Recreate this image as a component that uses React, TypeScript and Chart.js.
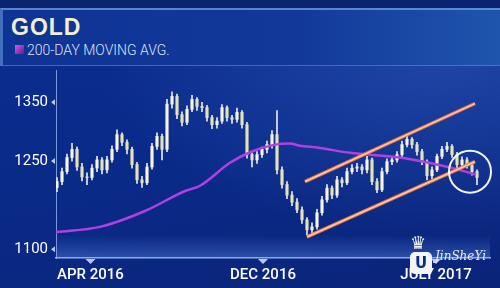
import React, { useEffect, useRef } from 'react';
import { Chart, registerables } from 'chart.js';

Chart.register(...registerables);

// ---- data (x = candle index) ----
const candleOpen = [
  1205, 1215, 1232, 1256, 1270, 1240, 1223, 1222, 1238, 1252,
  1235, 1252, 1270, 1295, 1282, 1270, 1244, 1218, 1213, 1240,
  1275, 1292, 1270, 1347, 1360, 1329, 1316, 1338, 1355, 1343,
  1341, 1324, 1312, 1318, 1341, 1324, 1321, 1333, 1312, 1261,
  1252, 1261, 1270, 1278, 1295, 1235, 1210, 1192, 1180, 1167,
  1150, 1133, 1138, 1162, 1184, 1204, 1192, 1218, 1213, 1232,
  1238, 1240, 1235, 1252, 1215, 1201, 1232, 1249, 1252, 1261,
  1278, 1287, 1278, 1266, 1249, 1225, 1235, 1258, 1270, 1275,
  1261, 1244, 1252, 1244, 1232,
];
const candleHigh = [
  1222, 1238, 1262, 1280, 1274, 1246, 1230, 1244, 1258, 1256,
  1258, 1276, 1303, 1298, 1286, 1274, 1248, 1224, 1246, 1280,
  1298, 1296, 1355, 1368, 1364, 1334, 1344, 1362, 1358, 1350,
  1345, 1328, 1324, 1346, 1344, 1328, 1340, 1336, 1316, 1264,
  1266, 1274, 1284, 1302, 1336, 1240, 1215, 1198, 1186, 1172,
  1154, 1145, 1168, 1190, 1210, 1208, 1224, 1222, 1238, 1244,
  1246, 1244, 1258, 1255, 1220, 1238, 1254, 1258, 1266, 1284,
  1294, 1290, 1282, 1270, 1252, 1240, 1262, 1275, 1282, 1278,
  1265, 1257, 1256, 1248, 1235,
];
const candleLow = [
  1198, 1210, 1228, 1250, 1234, 1216, 1210, 1218, 1232, 1228,
  1230, 1248, 1266, 1276, 1262, 1238, 1212, 1205, 1210, 1236,
  1270, 1252, 1266, 1340, 1322, 1310, 1312, 1334, 1336, 1334,
  1318, 1305, 1306, 1314, 1318, 1314, 1316, 1306, 1255, 1240,
  1246, 1256, 1264, 1272, 1228, 1204, 1186, 1174, 1162, 1144,
  1124, 1128, 1134, 1158, 1180, 1186, 1188, 1206, 1210, 1228,
  1232, 1228, 1230, 1210, 1196, 1198, 1228, 1244, 1248, 1256,
  1274, 1272, 1260, 1244, 1218, 1220, 1232, 1254, 1266, 1256,
  1238, 1240, 1238, 1226, 1210,
];
const candleClose = [
  1215, 1232, 1256, 1270, 1240, 1223, 1222, 1238, 1252, 1235,
  1252, 1270, 1295, 1282, 1270, 1244, 1218, 1213, 1240, 1275,
  1292, 1270, 1347, 1360, 1329, 1316, 1338, 1355, 1343, 1341,
  1324, 1312, 1318, 1341, 1324, 1321, 1333, 1312, 1261, 1252,
  1261, 1270, 1278, 1295, 1235, 1210, 1192, 1180, 1167, 1150,
  1133, 1138, 1162, 1184, 1204, 1192, 1218, 1213, 1232, 1238,
  1240, 1235, 1252, 1215, 1201, 1232, 1249, 1252, 1261, 1278,
  1287, 1278, 1266, 1249, 1225, 1235, 1258, 1270, 1275, 1261,
  1244, 1252, 1244, 1232, 1222,
];

const maIndex = [-0.2, 8.6, 17.6, 25.6, 28.6, 34.6, 38.6, 43.6, 46.6, 48.6, 52, 58.6, 68.6, 78.6, 83.8];
const maValue = [1129, 1138, 1165, 1199, 1208, 1247, 1265, 1278, 1280, 1276, 1273, 1264, 1256, 1239, 1227];

const upperChannelIndex = [49.6, 83.6];
const upperChannelValue = [1215, 1348];
const lowerChannelIndex = [50, 83.6];
const lowerChannelValue = [1121, 1249];

const yTickValues = [1100, 1250, 1350];
const xTickLabels = ['APR 2016', 'DEC 2016', 'JULY 2017'];
const xTickIndex = [6.7, 41.2, 75.8];

const highlightIndex = 82.6;
const highlightValue = 1232;

const decorations = {
  id: 'decorations',
  beforeDatasetsDraw(chart: any) {
    const { ctx, chartArea } = chart;
    ctx.save();
    const g = ctx.createLinearGradient(0, chartArea.bottom - 24, 0, chartArea.bottom);
    g.addColorStop(0, 'rgba(90,140,240,0)');
    g.addColorStop(1, 'rgba(110,160,250,0.35)');
    ctx.fillStyle = g;
    ctx.fillRect(chartArea.left, chartArea.bottom - 24, chartArea.right - chartArea.left, 24);
    ctx.restore();
  },
  afterDraw(chart: any) {
    const { ctx, scales, chartArea } = chart;
    const xs = scales.x;
    const ys = scales.y;
    ctx.save();
    ctx.fillStyle = 'rgba(205,220,255,0.9)';
    yTickValues.forEach((v) => {
      const py = ys.getPixelForValue(v);
      ctx.beginPath();
      ctx.moveTo(chartArea.left - 5, py);
      ctx.lineTo(chartArea.left - 1, py - 3);
      ctx.lineTo(chartArea.left - 1, py + 3);
      ctx.closePath();
      ctx.fill();
    });
    xTickIndex.forEach((v) => {
      const px = xs.getPixelForValue(v);
      ctx.beginPath();
      ctx.moveTo(px - 5, chartArea.bottom + 1);
      ctx.lineTo(px + 5, chartArea.bottom + 1);
      ctx.lineTo(px, chartArea.bottom + 6);
      ctx.closePath();
      ctx.fill();
    });
    ctx.strokeStyle = 'rgba(255,255,255,0.95)';
    ctx.lineWidth = 2;
    ctx.beginPath();
    ctx.arc(xs.getPixelForValue(highlightIndex), ys.getPixelForValue(highlightValue), 21, 0, Math.PI * 2);
    ctx.stroke();
    ctx.restore();
  },
};

export default function App() {
  const canvasRef = useRef<HTMLCanvasElement | null>(null);

  useEffect(() => {
    document.body.style.margin = '0';
    const canvas = canvasRef.current;
    if (!canvas) return;
    Chart.defaults.font.family = 'Roboto, "Liberation Sans", sans-serif';

    const wicks = candleHigh.map((h, i) => ({ x: i, y: [candleLow[i], h] }));
    const bodies = candleOpen.map((o, i) => ({ x: i, y: [o, candleClose[i]] }));
    const bodyColors = candleOpen.map((o, i) => (candleClose[i] >= o ? '#f7f5e2' : '#e6e2b4'));
    const ma = maIndex.map((x, i) => ({ x, y: maValue[i] }));
    const upper = upperChannelIndex.map((x, i) => ({ x, y: upperChannelValue[i] }));
    const lower = lowerChannelIndex.map((x, i) => ({ x, y: lowerChannelValue[i] }));

    const chart = new Chart(canvas, {
      type: 'bar',
      data: {
        datasets: [
          { type: 'line', data: upper, borderColor: '#ee7a44', borderWidth: 3.5, pointRadius: 0, order: 1 } as any,
          { type: 'line', data: upper, borderColor: '#ffd3b6', borderWidth: 1.2, pointRadius: 0, order: 0 } as any,
          { type: 'line', data: lower, borderColor: '#ee7a44', borderWidth: 3.5, pointRadius: 0, order: 1 } as any,
          { type: 'line', data: lower, borderColor: '#ffd3b6', borderWidth: 1.2, pointRadius: 0, order: 0 } as any,
          { type: 'line', data: ma, borderColor: '#b13fe2', borderWidth: 2.5, pointRadius: 0, tension: 0.4, cubicInterpolationMode: 'monotone', order: 2 } as any,
          { type: 'bar', data: bodies, backgroundColor: bodyColors, barThickness: 2.5, grouped: false, order: 3 } as any,
          { type: 'bar', data: wicks, backgroundColor: '#e8eaec', barThickness: 1, grouped: false, order: 4 } as any,
        ],
      },
      options: {
        animation: false,
        responsive: false,
        maintainAspectRatio: false,
        layout: { padding: { top: 70, right: 10, left: 0, bottom: 0 } },
        plugins: { legend: { display: false }, tooltip: { enabled: false }, title: { display: false } },
        scales: {
          x: {
            type: 'linear',
            min: -0.2,
            max: 86.6,
            offset: false,
            grid: { display: false, drawTicks: false },
            border: { display: true, color: 'rgba(170,200,255,0.85)', width: 1.5 },
            afterBuildTicks: (s: any) => {
              s.ticks = xTickIndex.map((v) => ({ value: v }));
            },
            afterFit: (s: any) => {
              s.height = 30;
            },
            ticks: {
              autoSkip: false,
              maxRotation: 0,
              padding: 8,
              color: '#ffffff',
              font: { size: 15, weight: 500 },
              callback: (_v: any, i: number) => xTickLabels[i],
            },
          },
          y: {
            type: 'linear',
            min: 1085,
            max: 1405,
            grid: { display: false, drawTicks: false },
            border: { display: true, color: 'rgba(170,200,255,0.7)', width: 1 },
            afterBuildTicks: (s: any) => {
              s.ticks = yTickValues.map((v) => ({ value: v }));
            },
            afterFit: (s: any) => {
              s.width = 56;
            },
            ticks: {
              padding: 8,
              color: '#ffffff',
              font: { size: 15, weight: 400 },
              callback: (v: any) => String(v),
            },
          },
        },
      },
      plugins: [decorations],
    });
    return () => chart.destroy();
  }, []);

  return (
    <div
      style={{
        position: 'fixed',
        left: 0,
        top: 0,
        width: 500,
        height: 288,
        overflow: 'hidden',
        background:
          'radial-gradient(ellipse at 88% 18%, rgba(70,120,220,0.35), rgba(70,120,220,0) 55%), linear-gradient(170deg, #0c2d90 0%, #0a2a88 55%, #0a2479 100%)',
      }}
    >
      <div style={{ position: 'absolute', left: 0, top: 0, width: 500, height: 8, background: '#0a246f' }} />
      <div
        style={{
          position: 'absolute',
          left: 0,
          top: 8,
          width: 500,
          height: 58,
          background: 'linear-gradient(90deg, #0e3394 0%, #12399a 60%, #1f55ad 100%)',
          borderTop: '2px solid rgba(110,160,230,0.75)',
          borderBottom: '1px solid rgba(90,140,220,0.6)',
          borderLeft: '3px solid rgba(90,130,200,0.6)',
          boxSizing: 'border-box',
        }}
      />
      <div
        style={{
          position: 'absolute',
          left: 11,
          top: 15,
          fontFamily: '"Liberation Sans", Arial, sans-serif',
          fontWeight: 700,
          fontSize: 23,
          letterSpacing: 1,
          lineHeight: '24px',
          color: '#f2f0cc',
        }}
      >
        GOLD
      </div>
      <div
        style={{
          position: 'absolute',
          left: 15,
          top: 45,
          width: 9,
          height: 9,
          background: 'linear-gradient(135deg, #d45ae6, #5b1a92)',
        }}
      />
      <div
        style={{
          position: 'absolute',
          left: 27,
          top: 42,
          fontFamily: 'Roboto, sans-serif',
          fontWeight: 300,
          fontSize: 14,
          lineHeight: '16px',
          color: '#dde5f7',
          whiteSpace: 'nowrap',
        }}
      >
        200-DAY MOVING AVG.
      </div>
      <canvas ref={canvasRef} width={500} height={288} style={{ position: 'absolute', left: 0, top: 0, width: 500, height: 288 }} />
      <div
        style={{
          position: 'absolute',
          left: 410,
          top: 234,
          fontFamily: '"DejaVu Sans", sans-serif',
          fontSize: 18,
          lineHeight: '18px',
          color: '#f4f4f4',
        }}
      >
        ♛
      </div>
      <div
        style={{
          position: 'absolute',
          left: 410,
          top: 252,
          width: 22,
          height: 22,
          borderRadius: 5,
          background: '#f4f4f4',
          color: '#0a2a88',
          fontFamily: '"DejaVu Sans", sans-serif',
          fontWeight: 700,
          fontSize: 15,
          lineHeight: '22px',
          textAlign: 'center',
        }}
      >
        U
      </div>
      <div
        style={{
          position: 'absolute',
          left: 435,
          top: 249,
          fontFamily: '"DejaVu Serif", serif',
          fontStyle: 'italic',
          fontSize: 12,
          lineHeight: '14px',
          color: '#e8ecf5',
          whiteSpace: 'nowrap',
        }}
      >
        JinSheYi
      </div>
    </div>
  );
}
